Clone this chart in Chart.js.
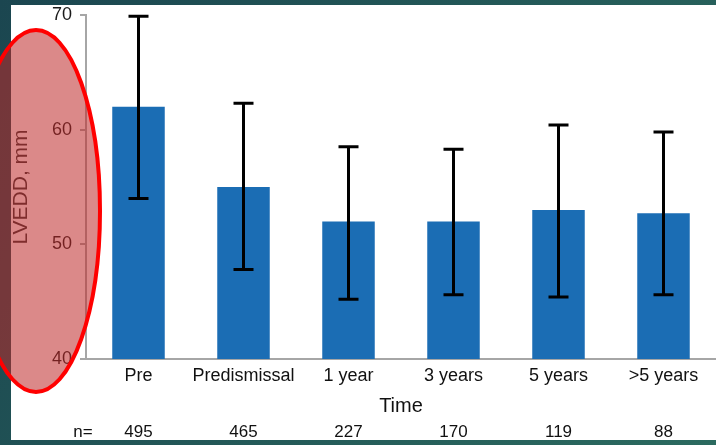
<!DOCTYPE html>
<html>
<head>
<meta charset="utf-8">
<script src="https://cdn.jsdelivr.net/npm/chart.js@4"></script>
<style>
  html, body { margin: 0; padding: 0; overflow: hidden; background: #1f4f55; }
  #wrap { position: relative; width: 716px; height: 445px; }
</style>
</head>
<body>
<div id="wrap"><canvas id="lveddChart" width="716" height="445"></canvas></div>
<script>
const categories = ["Pre", "Predismissal", "1 year", "3 years", "5 years", ">5 years"];
const meanLvedd = [62.0, 55.0, 52.0, 52.0, 53.0, 52.7];
const errHigh = [69.9, 62.3, 58.5, 58.3, 60.4, 59.8];
const errLow = [54.0, 47.8, 45.2, 45.6, 45.4, 45.6];
const nCounts = [495, 465, 227, 170, 119, 88];
const yMin = 40, yMax = 70, yStep = 10;

const FONT = "'Liberation Sans', Arial, sans-serif";

// slide background + white panel
const panelBg = {
    id: "panelBg",
    beforeDraw(chart) {
        const c = chart.ctx;
        c.save();
        const g = c.createLinearGradient(0, 0, 716, 445);
        g.addColorStop(0, "#1b4650");
        g.addColorStop(1, "#2b6a5f");
        c.fillStyle = g;
        c.fillRect(0, 0, chart.width, chart.height);
        c.fillStyle = "#ffffff";
        c.fillRect(11, 5, chart.width - 11, 435);
        c.restore();
    }
};

// error bars from errLow / errHigh
const errorBars = {
    id: "errorBars",
    afterDatasetsDraw(chart) {
        const c = chart.ctx;
        const xs = chart.scales.x, ys = chart.scales.y;
        c.save();
        c.strokeStyle = "#000000";
        c.lineWidth = 3;
        categories.forEach((cat, i) => {
            const x = xs.getPixelForValue(i);
            const top = ys.getPixelForValue(errHigh[i]);
            const bot = ys.getPixelForValue(errLow[i]);
            c.beginPath();
            c.moveTo(x, top); c.lineTo(x, bot);
            c.moveTo(x - 10, top); c.lineTo(x + 10, top);
            c.moveTo(x - 10, bot); c.lineTo(x + 10, bot);
            c.stroke();
        });
        c.restore();
    }
};

// "n=" row and the red highlight ellipse
const extras = {
    id: "extras",
    afterDraw(chart) {
        const c = chart.ctx;
        const xs = chart.scales.x;
        c.save();
        c.font = "17px " + FONT;
        c.fillStyle = "#111111";
        c.textAlign = "center";
        c.textBaseline = "middle";
        c.fillText("n=", 83, 432);
        nCounts.forEach((n, i) => c.fillText(String(n), xs.getPixelForValue(i), 432));

        c.beginPath();
        c.ellipse(36, 211, 64, 181, 0, 0, Math.PI * 2);
        c.fillStyle = "rgba(190, 40, 40, 0.55)";
        c.fill();
        c.lineWidth = 4;
        c.strokeStyle = "#ff0000";
        c.stroke();
        c.restore();
    }
};

new Chart(document.getElementById("lveddChart"), {
    type: "bar",
    data: {
        labels: categories,
        datasets: [{
            label: "LVEDD",
            data: meanLvedd,
            backgroundColor: "#1b6db4",
            borderWidth: 0,
            barPercentage: 0.5,
            categoryPercentage: 1.0
        }]
    },
    options: {
        responsive: false,
        animation: false,
        layout: { padding: { top: 15, right: 0, bottom: 20, left: 0 } },
        plugins: {
            legend: { display: false },
            tooltip: { enabled: false }
        },
        scales: {
            x: {
                afterFit(scale) { scale.height = 66; },
                grid: { display: false, drawTicks: false, tickLength: 0 },
                border: { display: true, color: "#a6a6a6", width: 2 },
                ticks: { color: "#111111", font: { family: FONT, size: 18 }, padding: 6, maxRotation: 0, autoSkip: false },
                title: {
                    display: true, text: "Time", color: "#111111",
                    font: { family: FONT, size: 20 }, padding: { top: 0, bottom: 7 }
                }
            },
            y: {
                min: yMin, max: yMax,
                afterFit(scale) {
                    scale.width = 86;
                    scale.paddingTop = 0;
                    scale.paddingBottom = 0;
                },
                grid: { drawOnChartArea: false, drawTicks: true, tickLength: 6, color: "#a6a6a6", lineWidth: 2 },
                border: { display: true, color: "#a6a6a6", width: 2 },
                ticks: { stepSize: yStep, color: "#1a1a1a", font: { family: FONT, size: 18 }, padding: 8 },
                title: {
                    display: true, text: "LVEDD, mm", color: "#333333",
                    font: { family: FONT, size: 21 }, padding: { top: 9, bottom: 0 }
                }
            }
        }
    },
    plugins: [panelBg, errorBars, extras]
});
</script>
</body>
</html>
